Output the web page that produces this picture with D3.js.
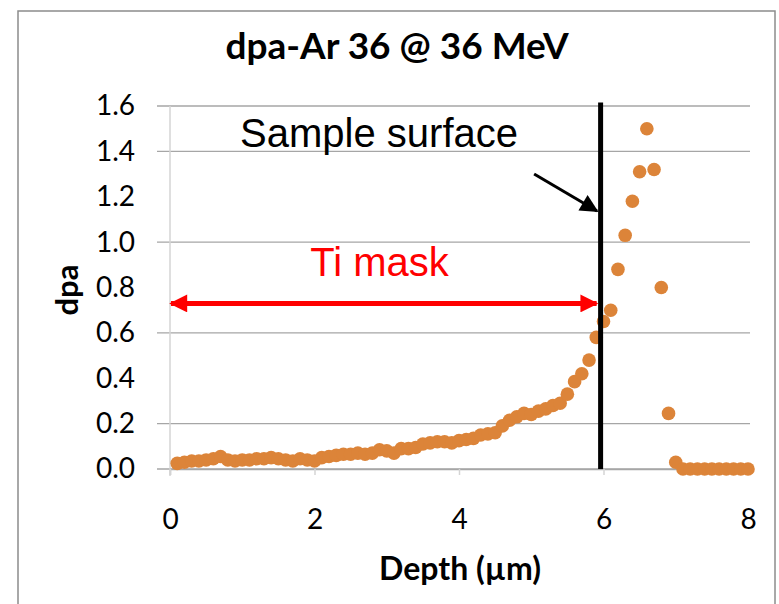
<!DOCTYPE html>
<html>
<head>
<meta charset="utf-8">
<script src="https://cdn.jsdelivr.net/npm/d3@7"></script>
<style>
  body { margin: 0; background: #fff; }
  svg { display: block; }
</style>
</head>
<body>
<div id="chart"></div>
<script>
// depth (um) and dpa values
var depth = [0.1,0.2,0.3,0.4,0.5,0.6,0.7,0.8,0.9,1.0,
             1.1,1.2,1.3,1.4,1.5,1.6,1.7,1.8,1.9,2.0,
             2.1,2.2,2.3,2.4,2.5,2.6,2.7,2.8,2.9,3.0,
             3.1,3.2,3.3,3.4,3.5,3.6,3.7,3.8,3.9,4.0,
             4.1,4.2,4.3,4.4,4.5,4.6,4.7,4.8,4.9,5.0,
             5.1,5.2,5.3,5.4,5.5,5.6,5.7,5.8,5.9,6.0,
             6.1,6.2,6.3,6.4,6.5,6.6,6.7,6.8,6.9,7.0,
             7.1,7.2,7.3,7.4,7.5,7.6,7.7,7.8,7.9,8.0];
var dpa = [0.025,0.03,0.035,0.035,0.04,0.045,0.055,0.04,0.035,0.04,
           0.04,0.045,0.045,0.05,0.045,0.04,0.035,0.045,0.04,0.035,
           0.05,0.055,0.06,0.065,0.065,0.07,0.065,0.07,0.085,0.08,
           0.07,0.09,0.09,0.095,0.11,0.115,0.12,0.12,0.115,0.125,
           0.13,0.135,0.15,0.155,0.16,0.19,0.215,0.23,0.245,0.24,
           0.255,0.265,0.28,0.29,0.33,0.385,0.42,0.48,0.58,0.65,
           0.70,0.88,1.03,1.18,1.31,1.50,1.32,0.80,0.245,0.03,
           0,0,0,0,0,0,0,0,0,0];

var xTicks = [0, 2, 4, 6, 8];
var yTicks = [0.0, 0.2, 0.4, 0.6, 0.8, 1.0, 1.2, 1.4, 1.6];
var yGrid = [0.0, 0.2, 0.6, 1.0, 1.4, 1.6];   // only these lines show in the picture

var surfaceDepth = 5.96;

var W = 779, H = 604;
var svg = d3.select("#chart").append("svg")
    .attr("width", W)
    .attr("height", H);

// chart frame
svg.append("rect")
    .attr("x", 18).attr("y", 11)
    .attr("width", 757).attr("height", 620)
    .attr("fill", "none")
    .attr("stroke", "#8c8c8c")
    .attr("stroke-width", 1.5);

var x = d3.scaleLinear().domain([0, 8]).range([170, 748]);
var y = d3.scaleLinear().domain([0, 1.6]).range([469, 106]);

// gridlines
svg.append("g")
    .selectAll("line")
    .data(yGrid)
    .enter()
    .append("line")
    .attr("x1", x(0) - 13)
    .attr("x2", x(8) + 2)
    .attr("y1", function(d) { return y(d); })
    .attr("y2", function(d) { return y(d); })
    .attr("stroke", "#a6a6a6")
    .attr("stroke-width", 1.3);

// y axis line
svg.append("line")
    .attr("x1", x(0)).attr("x2", x(0))
    .attr("y1", y(1.6)).attr("y2", y(0) + 7)
    .attr("stroke", "#d4d4d4")
    .attr("stroke-width", 1.5);

// x axis
var xAxis = svg.append("g")
    .attr("transform", "translate(0," + y(0) + ")")
    .call(d3.axisBottom(x).tickValues(xTicks).tickSize(6).tickPadding(34).tickFormat(d3.format("d")));
xAxis.select(".domain").attr("stroke", "#a6a6a6").attr("stroke-width", 1.3);
xAxis.selectAll(".tick line").attr("stroke", "#d4d4d4").attr("stroke-width", 1.5);
xAxis.selectAll("text")
    .attr("fill", "#000")
    .style("font-family", "Lato, 'Open Sans', sans-serif")
    .style("font-size", "28px");

// y axis labels
var yAxis = svg.append("g")
    .attr("transform", "translate(" + (x(0) - 14) + ",0)")
    .call(d3.axisLeft(y).tickValues(yTicks).tickSize(0).tickPadding(21).tickFormat(d3.format(".1f")));
yAxis.select(".domain").remove();
yAxis.selectAll("text")
    .attr("fill", "#000")
    .style("font-family", "Lato, 'Open Sans', sans-serif")
    .style("font-size", "28px");

// title
svg.append("text")
    .attr("x", 397).attr("y", 59)
    .attr("text-anchor", "middle")
    .style("font-family", "Lato, 'Open Sans', sans-serif")
    .style("font-weight", "bold")
    .style("font-size", "37px")
    .text("dpa-Ar 36 @ 36 MeV");

// axis titles
svg.append("text")
    .attr("x", 460).attr("y", 580)
    .attr("text-anchor", "middle")
    .style("font-family", "Lato, 'Open Sans', sans-serif")
    .style("font-weight", "bold")
    .style("font-size", "32px")
    .text("Depth (\u00b5m)");

svg.append("text")
    .attr("transform", "translate(78," + 290 + ")rotate(-90)")
    .attr("text-anchor", "middle")
    .style("font-family", "Lato, 'Open Sans', sans-serif")
    .style("font-weight", "bold")
    .style("font-size", "31px")
    .text("dpa");

// data points
var pts = depth.map(function(d, i) { return {x: d, y: dpa[i]}; });
svg.append("g")
    .selectAll("circle")
    .data(pts)
    .enter()
    .append("circle")
    .attr("cx", function(d) { return x(d.x); })
    .attr("cy", function(d) { return y(d.y); })
    .attr("r", 6.8)
    .attr("fill", "#dc8439");

// arrow heads
var defs = svg.append("defs");
defs.append("marker")
    .attr("id", "redHead")
    .attr("viewBox", "0 0 10 10")
    .attr("refX", 9).attr("refY", 5)
    .attr("markerWidth", 4).attr("markerHeight", 3.6)
    .attr("markerUnits", "strokeWidth")
    .attr("orient", "auto-start-reverse")
    .append("path")
    .attr("d", "M0,0L10,5L0,10z")
    .attr("fill", "#ff0000");
defs.append("marker")
    .attr("id", "blackHead")
    .attr("viewBox", "0 0 10 10")
    .attr("refX", 9).attr("refY", 5)
    .attr("markerWidth", 7.5).attr("markerHeight", 6)
    .attr("markerUnits", "strokeWidth")
    .attr("orient", "auto")
    .append("path")
    .attr("d", "M0,0L10,5L0,10z")
    .attr("fill", "#000");

// sample surface line
svg.append("line")
    .attr("x1", x(surfaceDepth)).attr("x2", x(surfaceDepth))
    .attr("y1", y(1.615)).attr("y2", y(0))
    .attr("stroke", "#000")
    .attr("stroke-width", 5);

// Ti mask arrow
svg.append("line")
    .attr("x1", x(0) + 1).attr("x2", x(surfaceDepth) - 4)
    .attr("y1", y(0.73)).attr("y2", y(0.73))
    .attr("stroke", "#ff0000")
    .attr("stroke-width", 5)
    .attr("marker-start", "url(#redHead)")
    .attr("marker-end", "url(#redHead)");

svg.append("text")
    .attr("x", x(2.9)).attr("y", y(0.85))
    .attr("text-anchor", "middle")
    .attr("fill", "#ff0000")
    .style("font-family", "'Liberation Sans', Arial, sans-serif")
    .style("font-size", "40px")
    .text("Ti mask");

// sample surface label and pointer
svg.append("text")
    .attr("x", x(0.97)).attr("y", y(1.42))
    .attr("fill", "#000")
    .style("font-family", "'Liberation Sans', Arial, sans-serif")
    .style("font-size", "40px")
    .text("Sample surface");

svg.append("line")
    .attr("x1", x(5.04)).attr("y1", y(1.30))
    .attr("x2", x(5.91)).attr("y2", y(1.137))
    .attr("stroke", "#000")
    .attr("stroke-width", 3)
    .attr("marker-end", "url(#blackHead)");
</script>
</body>
</html>
